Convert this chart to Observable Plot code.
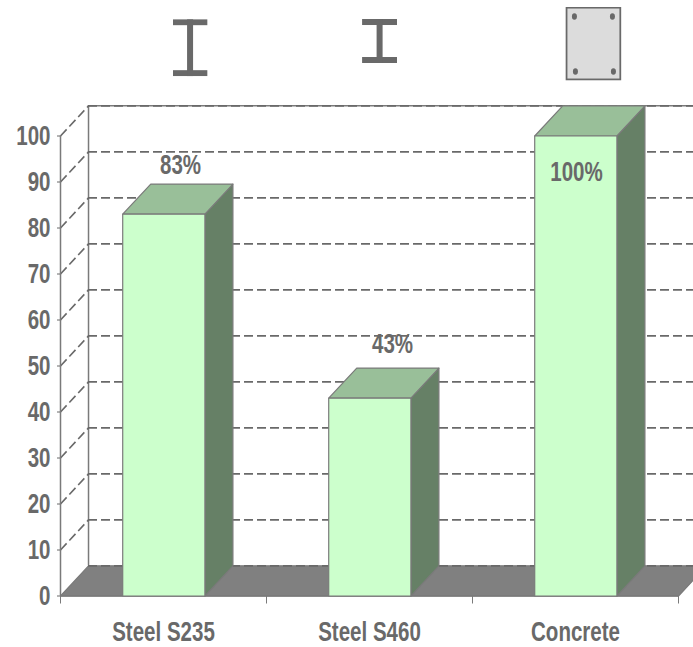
<!DOCTYPE html>
<html>
<head>
<meta charset="utf-8">
<script src="https://cdn.jsdelivr.net/npm/d3@7"></script>
<script src="https://cdn.jsdelivr.net/npm/@observablehq/plot@0.6"></script>
<style>
  html, body { margin: 0; padding: 0; background: #fff; }
  svg { display: block; }
</style>
</head>
<body>
<div id="chart"></div>
<script>
// Relative stiffness per material, in percent
const materials = ["Steel S235", "Steel S460", "Concrete"];
const shares = [83, 43, 100];
const labelCentres = [0.5825, 1.612, 2.505];
const labelHeights = [93.7, 54.7, 92.1];
const gridValues = [0, 10, 20, 30, 40, 50, 60, 70, 80, 90, 100];
const iconCentres = [0.629, 1.549, 2.587];
const iconHeights = [119.2, 120.65, 120.1];

// Extruded look: how far the back plane sits from the front plane, in scale units
const depthX = 0.136;
const depthY = 6.55;
const barStart = 0.302;
const barWidth = 0.399;

const ink = "#696969";
const edge = "#7a7a7a";
const font = "'Liberation Sans', Arial, sans-serif";
const fontSize = 27;
const condense = 0.76;
const dash = "9 4";

const svgIcon = (w, h, body) =>
  "data:image/svg+xml;utf8," + encodeURIComponent(
    `<svg xmlns="http://www.w3.org/2000/svg" width="${w}" height="${h}" viewBox="0 0 ${w} ${h}">${body}</svg>`
  );
const beam = (w, h) => svgIcon(w, h,
  `<g fill="#696969"><rect width="${w}" height="6"/><rect y="${h - 6}" width="${w}" height="6"/><rect x="${w / 2 - 3}" width="6" height="${h}"/></g>`);
const column = svgIcon(56, 74,
  `<rect x="1" y="1" width="54" height="72" fill="#dcdcdc" stroke="#696969" stroke-width="2"/>` +
  `<g fill="#696969"><ellipse cx="9" cy="10" rx="2.5" ry="3.2"/><ellipse cx="47" cy="10" rx="2.5" ry="3.2"/>` +
  `<ellipse cx="10" cy="65" rx="2.5" ry="3.2"/><ellipse cx="48" cy="65" rx="2.5" ry="3.2"/></g>`);
const icons = [
  {src: beam(35, 57), width: 35, height: 57},
  {src: beam(35, 44), width: 35, height: 44},
  {src: column, width: 56, height: 74}
];

// Closed polygons are lines with a fill, grouped by face id
const polygon = (faces, fill, strokeColor) => Plot.line(
  faces.flatMap((pts, id) => pts.map(([x, y]) => ({id, x, y}))),
  {x: "x", y: "y", z: "id", curve: "linear-closed", fill, stroke: strokeColor, strokeWidth: 1.2}
);

const frontFaces = shares.map((v, i) => {
  const a = i + barStart, b = a + barWidth;
  return [[a, 0], [b, 0], [b, v], [a, v]];
});
const topFaces = shares.map((v, i) => {
  const a = i + barStart, b = a + barWidth;
  return [[a, v], [b, v], [b + depthX, v + depthY], [a + depthX, v + depthY]];
});
const sideFaces = shares.map((v, i) => {
  const b = i + barStart + barWidth;
  return [[b, 0], [b + depthX, depthY], [b + depthX, v + depthY], [b, v]];
});
const floor = [[[0, 0], [3, 0], [3 + depthX, depthY], [depthX, depthY]]];

const plot = Plot.plot({
  width: 693,
  height: 647,
  marginLeft: 60,
  marginRight: 15,
  marginTop: 135.5,
  marginBottom: 51.5,
  x: {type: "linear", domain: [0, 3], axis: null},
  y: {domain: [0, 100], axis: null},
  style: {fontFamily: font, fontWeight: "bold", background: "#fff"},
  marks: [
    polygon(floor, "#808080", edge),
    // back wall edge and dashed grid
    Plot.ruleX([depthX], {y1: depthY, y2: 100 + depthY, stroke: edge, strokeWidth: 1.5}),
    Plot.ruleY([100 + depthY], {x1: depthX, x2: 3 + depthX, stroke: edge, strokeWidth: 1.5}),
    Plot.ruleY(gridValues, {
      y: d => d + depthY, x1: depthX, x2: 3 + depthX,
      stroke: ink, strokeWidth: 1.6, strokeDasharray: dash
    }),
    Plot.link(gridValues.filter(d => d > 0), {
      x1: 0, y1: d => d, x2: depthX, y2: d => d + depthY,
      stroke: ink, strokeWidth: 1.6, strokeDasharray: dash
    }),
    // axes
    Plot.ruleX([0], {y1: 0, y2: 100, stroke: edge, strokeWidth: 1.5}),
    Plot.axisY({
      ticks: gridValues, tickSize: 3, tickPadding: 7,
      color: ink, fontSize, label: null
    }),
    Plot.axisX({
      ticks: [0, 1, 2, 3], tickSize: 8, tickFormat: () => "",
      color: edge, label: null
    }),
    Plot.ruleY([0], {stroke: edge, strokeWidth: 1.5}),
    // bars
    polygon(sideFaces, "#668066", edge),
    polygon(topFaces, "#99bf99", edge),
    polygon(frontFaces, "#ccffcc", edge),
    // value labels
    Plot.text(shares, {
      x: (d, i) => labelCentres[i],
      y: (d, i) => labelHeights[i],
      text: d => `${d}%`,
      fontSize, fill: ink
    }),
    // category labels
    Plot.text(materials, {
      x: (d, i) => i + 0.5, y: 0, text: d => d,
      dy: 36, fontSize, fill: ink
    }),
    // cross-section icons above each bar
    Plot.image(icons, {
      x: (d, i) => iconCentres[i],
      y: (d, i) => iconHeights[i],
      width: "width", height: "height", src: "src", preserveAspectRatio: "none"
    })
  ]
});
document.getElementById("chart").append(plot);

// The chart lettering is a condensed bold: squeeze the glyphs horizontally once laid out
for (const t of plot.querySelectorAll("text")) {
  if (!t.textContent) continue;
  const full = t.getComputedTextLength();
  t.setAttribute("textLength", (full * condense).toFixed(2));
  t.setAttribute("lengthAdjust", "spacingAndGlyphs");
}
</script>
</body>
</html>
